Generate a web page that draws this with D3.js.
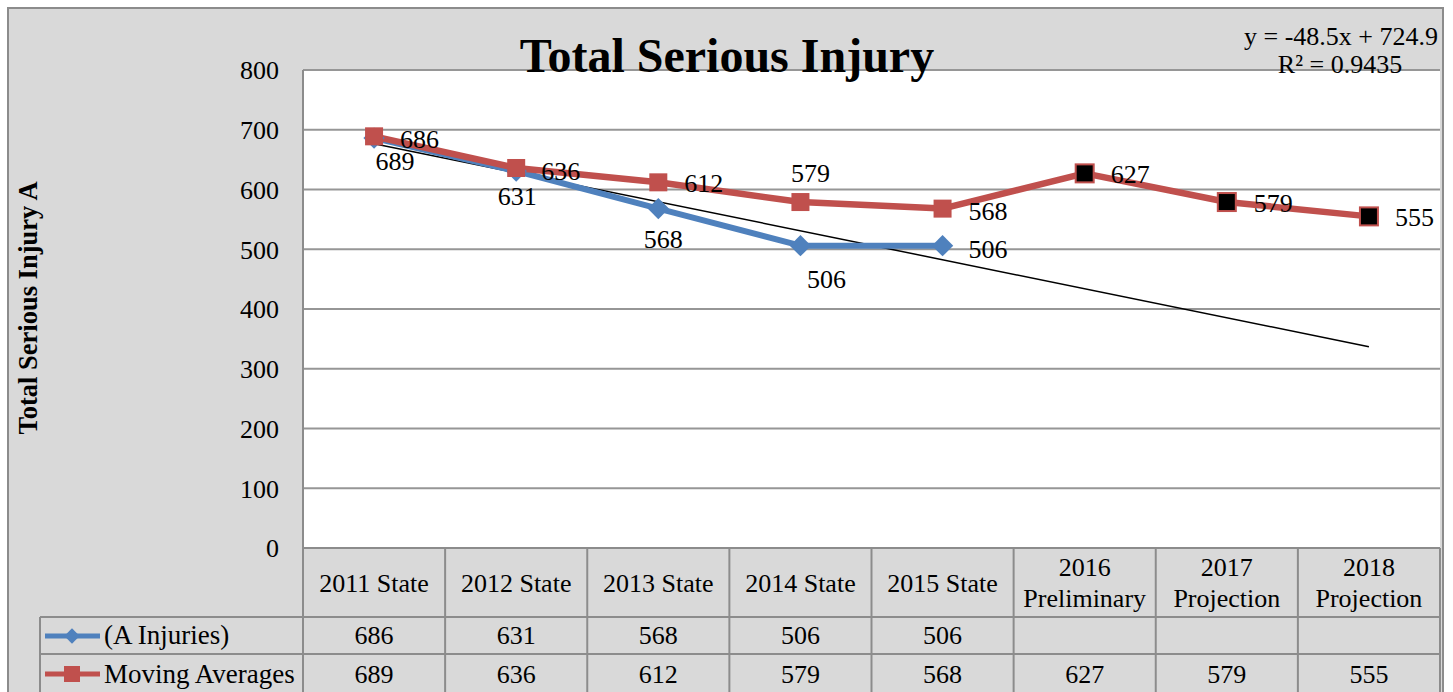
<!DOCTYPE html>
<html><head><meta charset="utf-8">
<script src="https://cdn.jsdelivr.net/npm/d3@7"></script>
<style>body{margin:0;background:#fff;} svg{display:block;font-family:"Liberation Serif","Times New Roman",serif;}</style>
</head><body>
<svg id="c" width="1453" height="692"></svg>
<script>
const categories = [["2011 State"],["2012 State"],["2013 State"],["2014 State"],["2015 State"],["2016","Preliminary"],["2017","Projection"],["2018","Projection"]];
const aInjuries = [686, 631, 568, 506, 506, null, null, null];
const movingAverages = [689, 636, 612, 579, 568, 627, 579, 555];
const projected = [false, false, false, false, false, true, true, true];
const yTicks = [0, 100, 200, 300, 400, 500, 600, 700, 800];
const seriesNames = ["(A Injuries)", "Moving Averages"];
// label placement offsets (dx, dy from point) per series
const aLabelOffsets = [[26,10,"start"],[1,34,"middle"],[5,39,"middle"],[26,42,"middle"],[26,12,"start"]];
const maLabelOffsets = [[21,34,"middle"],[25,12,"start"],[26,10,"start"],[10,-20,"middle"],[26,11,"start"],[26,10,"start"],[27,10,"start"],[26,10,"start"]];

const svg = d3.select("#c");
const blue = "#4f81bd", red = "#c0504d", gridC = "#969696", lineC = "#8c8c8c";
svg.append("rect").attr("x",0).attr("y",0).attr("width",1453).attr("height",692).attr("fill","#fff");
svg.append("rect").attr("x",8).attr("y",8).attr("width",1435).attr("height",700).attr("fill","#d9d9d9").attr("stroke",lineC).attr("stroke-width",2);

const L = 303, R = 1440, T = 70, B = 548;
const x = d3.scaleBand().domain(d3.range(categories.length)).range([L, R]);
const cx = i => x(i) + x.bandwidth()/2;
const y = d3.scaleLinear().domain([0, 800]).range([B, T]);

svg.append("rect").attr("x",L).attr("y",T).attr("width",R-L).attr("height",B-T).attr("fill","#fff");
// gridlines
svg.append("g").selectAll("line").data(yTicks).join("line")
  .attr("x1",L).attr("x2",R).attr("y1",d=>y(d)).attr("y2",d=>y(d))
  .attr("stroke",gridC).attr("stroke-width",2);
svg.append("line").attr("x1",L).attr("x2",L).attr("y1",T).attr("y2",B).attr("stroke",lineC).attr("stroke-width",2);

// y axis labels via d3 axis
const yAxis = d3.axisLeft(y).tickValues(yTicks).tickSize(0).tickPadding(24);
const ga = svg.append("g").attr("transform",`translate(${L},0)`).call(yAxis);
ga.select(".domain").remove();
ga.selectAll("text").attr("font-size",26).attr("fill","#000").attr("font-family","Liberation Serif").attr("dy","0.34em");

// title
svg.append("text").attr("x",727).attr("y",72).attr("text-anchor","middle").attr("font-size",48).attr("font-weight","bold").text("Total Serious Injury");
// y-axis title
svg.append("text").attr("transform","translate(37,308) rotate(-90)").attr("text-anchor","middle").attr("font-size",26.5).attr("font-weight","bold").text("Total Serious Injury A");

// trendline from regression of A Injuries
const pts = aInjuries.map((v,i)=>[i+1,v]).filter(d=>d[1]!=null);
const mx = d3.mean(pts,d=>d[0]), my = d3.mean(pts,d=>d[1]);
const slope = d3.sum(pts,d=>(d[0]-mx)*(d[1]-my))/d3.sum(pts,d=>(d[0]-mx)**2);
const icpt = my - slope*mx;
const ssr = d3.sum(pts,d=>(d[1]-(slope*d[0]+icpt))**2), sst = d3.sum(pts,d=>(d[1]-my)**2);
const r2 = 1-ssr/sst;
svg.append("line").attr("x1",cx(0)).attr("y1",y(slope*1+icpt)).attr("x2",cx(7)).attr("y2",y(slope*8+icpt)).attr("stroke","#000").attr("stroke-width",1.5);
svg.append("text").attr("x",1438).attr("y",45).attr("text-anchor","end").attr("font-size",26).text(`y = ${slope.toFixed(1)}x + ${icpt.toFixed(1)}`);
svg.append("text").attr("x",1340).attr("y",73).attr("text-anchor","middle").attr("font-size",26).text(`R² = ${r2.toFixed(4)}`);

// lines
const line = d3.line().defined(d=>d[1]!=null).x(d=>cx(d[0])).y(d=>y(d[1]));
svg.append("path").datum(aInjuries.map((v,i)=>[i,v])).attr("d",line).attr("fill","none").attr("stroke",blue).attr("stroke-width",6).attr("stroke-linejoin","round");
svg.append("path").datum(movingAverages.map((v,i)=>[i,v])).attr("d",line).attr("fill","none").attr("stroke",red).attr("stroke-width",6.5).attr("stroke-linejoin","round");
// markers
const diamond = d3.symbol().type(d3.symbolDiamond2).size(290);
svg.append("g").selectAll("path").data(aInjuries.map((v,i)=>[i,v]).filter(d=>d[1]!=null)).join("path")
  .attr("d",diamond).attr("transform",d=>`translate(${cx(d[0])},${y(d[1])})`).attr("fill",blue);
svg.append("g").selectAll("rect").data(movingAverages.map((v,i)=>[i,v])).join("rect")
  .attr("x",d=>cx(d[0])-9).attr("y",d=>y(d[1])-9).attr("width",18).attr("height",18)
  .attr("fill",d=>projected[d[0]]?"#000":red).attr("stroke",red).attr("stroke-width",d=>projected[d[0]]?2:0);

// data labels
svg.append("g").selectAll("text").data(aInjuries.map((v,i)=>[i,v]).filter(d=>d[1]!=null)).join("text")
  .attr("x",d=>cx(d[0])+aLabelOffsets[d[0]][0]).attr("y",d=>y(d[1])+aLabelOffsets[d[0]][1])
  .attr("text-anchor",d=>aLabelOffsets[d[0]][2]).attr("font-size",26).text(d=>d[1]);
svg.append("g").selectAll("text").data(movingAverages.map((v,i)=>[i,v])).join("text")
  .attr("x",d=>cx(d[0])+maLabelOffsets[d[0]][0]).attr("y",d=>y(d[1])+maLabelOffsets[d[0]][1])
  .attr("text-anchor",d=>maLabelOffsets[d[0]][2]).attr("font-size",26).text(d=>d[1]);

// data table
const tl = svg.append("g");
tl.append("line").attr("x1",L).attr("x2",R).attr("y1",B).attr("y2",B).attr("stroke",lineC).attr("stroke-width",2);
tl.append("line").attr("x1",40).attr("x2",R).attr("y1",617).attr("y2",617).attr("stroke",lineC).attr("stroke-width",2);
tl.append("line").attr("x1",40).attr("x2",R).attr("y1",654).attr("y2",654).attr("stroke",lineC).attr("stroke-width",2);
tl.append("line").attr("x1",40).attr("x2",40).attr("y1",617).attr("y2",700).attr("stroke",lineC).attr("stroke-width",2);
tl.selectAll(".v").data(d3.range(categories.length+1)).join("line")
  .attr("x1",i=>i<categories.length?x(i):R).attr("x2",i=>i<categories.length?x(i):R)
  .attr("y1",B).attr("y2",700).attr("stroke",lineC).attr("stroke-width",2);
// header text
categories.forEach((c,i)=>{
  const t = tl.append("text").attr("text-anchor","middle").attr("font-size",26);
  if (c.length===1) t.append("tspan").attr("x",cx(i)).attr("y",592).text(c[0]);
  else { t.append("tspan").attr("x",cx(i)).attr("y",576).text(c[0]); t.append("tspan").attr("x",cx(i)).attr("y",607).text(c[1]); }
});
// values
[aInjuries, movingAverages].forEach((arr,r)=>{
  tl.append("g").selectAll("text").data(arr.map((v,i)=>[i,v]).filter(d=>d[1]!=null)).join("text")
    .attr("x",d=>cx(d[0])).attr("y",r===0?644:683).attr("text-anchor","middle").attr("font-size",26).text(d=>d[1]);
});
// legend keys
tl.append("line").attr("x1",45).attr("x2",100).attr("y1",636).attr("y2",636).attr("stroke",blue).attr("stroke-width",5);
tl.append("path").attr("d",d3.symbol().type(d3.symbolDiamond2).size(150)).attr("transform","translate(72,636)").attr("fill",blue);
tl.append("line").attr("x1",45).attr("x2",100).attr("y1",674).attr("y2",674).attr("stroke",red).attr("stroke-width",5);
tl.append("rect").attr("x",64).attr("y",666).attr("width",16).attr("height",16).attr("fill",red);
tl.append("text").attr("x",104).attr("y",644).attr("font-size",27).text(seriesNames[0]);
tl.append("text").attr("x",104).attr("y",683).attr("font-size",27).text(seriesNames[1]);
</script>
</body></html>
